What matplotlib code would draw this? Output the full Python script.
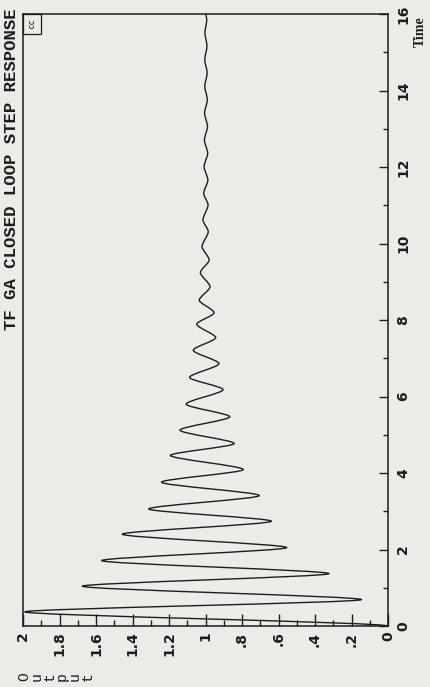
import matplotlib
matplotlib.use("Agg")
import matplotlib.pyplot as plt
from matplotlib.patches import Rectangle, PathPatch
from matplotlib.path import Path

# ---- data (extrema of the step response) ----
time_points = [0.0, 0.37, 0.69, 1.04, 1.37, 1.71, 2.05, 2.40, 2.74, 3.06, 3.41,
               3.76, 4.09, 4.46, 4.77, 5.12, 5.47, 5.80, 6.18, 6.50, 6.86, 7.21,
               7.54, 7.89, 8.19, 8.52, 8.87, 9.24, 9.57, 9.92, 10.31, 10.62,
               11.01, 11.31, 11.66, 12.01, 12.36, 12.71, 13.06, 13.41, 13.76,
               14.11, 14.46, 14.81, 15.16, 15.51, 15.86, 16.0]
output_values = [0.0, 1.99, 0.145, 1.675, 0.323, 1.569, 0.555, 1.456, 0.639,
                 1.311, 0.705, 1.241, 0.793, 1.192, 0.843, 1.140, 0.867, 1.106,
                 0.904, 1.087, 0.926, 1.067, 0.944, 1.048, 0.953, 1.034, 0.975,
                 1.028, 0.980, 1.019, 0.985, 1.014, 0.986, 1.010, 0.987, 1.008,
                 0.988, 1.006, 0.989, 1.005, 0.990, 1.004, 0.991, 1.004, 0.992,
                 1.003, 0.993, 0.998]

output_ticks = [0, 0.2, 0.4, 0.6, 0.8, 1.0, 1.2, 1.4, 1.6, 1.8, 2.0]
output_tick_labels = ["0", ".2", ".4", ".6", ".8", "1", "1.2", "1.4", "1.6", "1.8", "2"]
output_minor = [0.1, 0.3, 0.5, 0.7, 0.9, 1.1, 1.3, 1.5, 1.7, 1.9]
time_ticks = [0, 2, 4, 6, 8, 10, 12, 14, 16]
time_tick_labels = ["0", "2", "4", "6", "8", "10", "12", "14", "16"]
time_minor = [1, 3, 5, 7, 9, 11, 13, 15]

title = "TF GA CLOSED LOOP STEP RESPONSE"
time_label = "Time"
output_label = "Output"
corner_tag = "cc"

bg = "#ebebe7"
ink = "#1c1c1c"

W, H = 430, 687
fig = plt.figure(figsize=(W / 100, H / 100), dpi=100, facecolor=bg)
ax = fig.add_axes([23 / W, 61 / H, 365 / W, 612 / H], facecolor=bg)

# smooth curve through the extrema (flat tangent in time at each extremum)
verts = [(output_values[0], time_points[0])]
codes = [Path.MOVETO]
for i in range(len(time_points) - 1):
    t0, t1 = time_points[i], time_points[i + 1]
    y0, y1 = output_values[i], output_values[i + 1]
    d = (t1 - t0) * 0.26
    verts += [(y0, t0 + d), (y1, t1 - d), (y1, t1)]
    codes += [Path.CURVE4] * 3
ax.add_patch(PathPatch(Path(verts, codes), facecolor="none", edgecolor=ink,
                       lw=1.0, joinstyle="round", capstyle="round"))

ax.set_xlim(2, 0)
ax.set_ylim(0, 16)

ax.set_xticks(output_ticks)
ax.set_xticklabels(output_tick_labels, rotation=90, fontweight="bold")
ax.set_xticks(output_minor, minor=True)

ax.yaxis.tick_right()
ax.set_yticks(time_ticks)
ax.set_yticklabels(time_tick_labels, rotation=90, va="center", fontweight="bold")
ax.set_yticks(time_minor, minor=True)

ax.tick_params(axis="x", which="major", direction="in", length=8.5, width=1.0,
               color=ink, pad=4, labelsize=10, labelcolor=ink)
ax.tick_params(axis="x", which="minor", direction="in", length=4.5, width=1.0, color=ink)
ax.tick_params(axis="y", which="major", direction="in", length=6.5, width=1.0,
               color=ink, pad=6, labelsize=10, labelcolor=ink,
               left=False, right=True, labelleft=False, labelright=True)
ax.tick_params(axis="y", which="minor", direction="in", length=3.5, width=1.0,
               color=ink, left=False, right=True)

for s in ax.spines.values():
    s.set_color(ink)
    s.set_linewidth(1.1)

# corner tag box
ax.add_patch(Rectangle((0, 1 - 20 / 612), 18 / 365, 20 / 612, transform=ax.transAxes,
                       facecolor="none", edgecolor=ink, lw=0.9, clip_on=False))
ax.text(9 / 365, 1 - 10 / 612, corner_tag, transform=ax.transAxes, rotation=90,
        ha="center", va="center", fontsize=6.5, family="DejaVu Sans Mono", color=ink)

fig.text(12 / W, 1 - 8 / H, title, rotation=90, ha="center", va="top",
         fontsize=12.5, family="Liberation Mono", fontweight="bold", color=ink)
fig.text(420 / W, 1 - 32 / H, time_label, rotation=90, ha="center", va="center",
         fontsize=10, family="Liberation Serif", fontweight="bold", color=ink)
fig.text(17 / W, 1 - 677 / H, "\n".join(output_label), rotation=90, ha="left",
         va="center", fontsize=10.5, family="Liberation Mono", color=ink,
         linespacing=0.88)

fig.savefig("out.png", dpi=100, facecolor=bg)
